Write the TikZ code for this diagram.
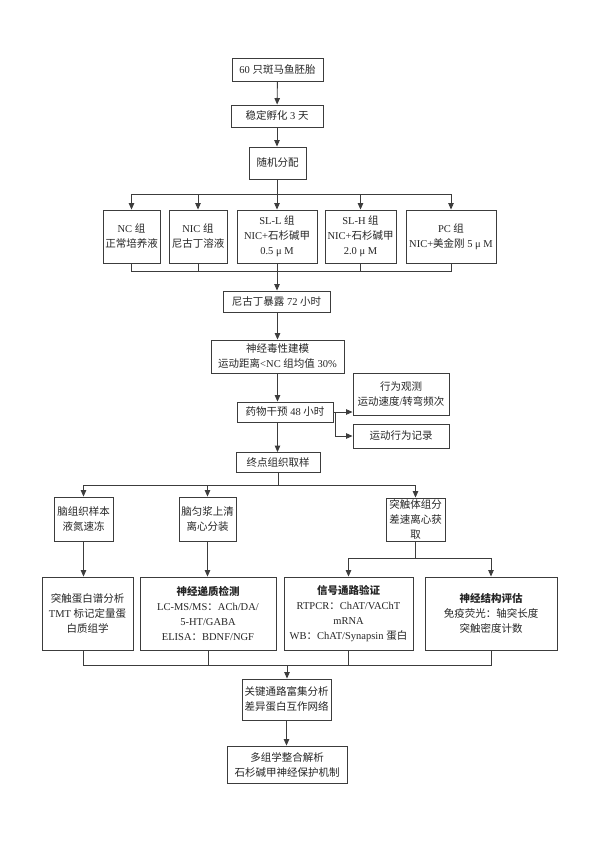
\documentclass[tikz,border=0pt]{standalone}
\usepackage{fontspec}
\setmainfont{Liberation Serif}
\newfontfamily\cjkfont{Noto Sans CJK SC}
\newfontfamily\latinfont{Liberation Serif}
\usetikzlibrary{calc,arrows.meta}
\usetikzlibrary{positioning}

% switch to the CJK font for Chinese characters
\newXeTeXintercharclass\CJKcls
\newcount\cjkcode
\cjkcode="4E00
\loop \XeTeXcharclass\cjkcode=\CJKcls \ifnum\cjkcode<"9FFF\relax \advance\cjkcode by 1 \repeat
\cjkcode="FF01
\loop \XeTeXcharclass\cjkcode=\CJKcls \ifnum\cjkcode<"FF5E\relax \advance\cjkcode by 1 \repeat
\XeTeXinterchartoks 0 \CJKcls = {\cjkfont}
\XeTeXinterchartoks 4095 \CJKcls = {\cjkfont}
\XeTeXinterchartoks \CJKcls 0 = {\latinfont}
\XeTeXinterchartoks \CJKcls 4095 = {\latinfont}
\XeTeXinterchartokenstate=1

\definecolor{linegray}{HTML}{3C3C3C}
\definecolor{textgray}{HTML}{262626}

\begin{document}
\begin{tikzpicture}[x=1pt, y=-1pt, color=linegray, line width=0.9pt,
  box/.style={rectangle, draw=linegray, line width=0.9pt, fill=white, text=textgray,
    inner sep=1pt, align=center, font=\fontsize{10.5}{15}\selectfont}
]
\useasboundingbox (0,0) rectangle (594,841);

% Node coordinates WITH LABELS
\node[box, minimum width=91, minimum height=23] (E1) at (277.5, 69.5) {60 只斑马鱼胚胎};
\node[box, minimum width=92, minimum height=22] (E2) at (277, 116) {稳定孵化 3 天};
\node[box, minimum width=57, minimum height=32] (E3) at (277.5, 163) {随机分配};

\node[box, minimum width=57, minimum height=53] (G1) at (131.5, 236.5) {NC 组\\正常培养液};
\node[box, minimum width=58, minimum height=53] (G2) at (198, 236.5) {NIC 组\\尼古丁溶液};
\node[box, minimum width=80, minimum height=53] (G3) at (277, 236.5) {SL-L 组\\NIC+石杉碱甲\\0.5 μ M};
\node[box, minimum width=71, minimum height=53] (G4) at (360.5, 236.5) {SL-H 组\\NIC+石杉碱甲\\2.0 μ M};
\node[box, minimum width=90, minimum height=53] (G5) at (451, 236.5) {PC 组\\NIC+美金刚 5 μ M};

\node[box, minimum width=107, minimum height=21] (E4) at (276.5, 301.5) {尼古丁暴露 72 小时};
\node[box, minimum width=133, minimum height=33] (E5) at (277.5, 356.5) {神经毒性建模\\运动距离<NC 组均值 30\%};
\node[box, minimum width=96, minimum height=20] (E6) at (285, 412) {药物干预 48 小时};
\node[box, minimum width=96, minimum height=42] (B1) at (401, 394) {行为观测\\运动速度/转弯频次};
\node[box, minimum width=96, minimum height=24] (B2) at (401, 436) {运动行为记录};
\node[box, minimum width=84, minimum height=20] (E7) at (278, 462.5) {终点组织取样};

\node[box, minimum width=59, minimum height=44] (S1) at (83.5, 519) {脑组织样本\\液氮速冻};
\node[box, minimum width=57, minimum height=44] (S2) at (207.5, 519) {脑匀浆上清\\离心分装};
\node[box, minimum width=59, minimum height=43] (S3) at (415.5, 519.5) {突触体组分\\差速离心获\\取};

\node[box, minimum width=91, minimum height=73] (A1) at (87.5, 613.5) {突触蛋白谱分析\\TMT 标记定量蛋\\白质组学};
\node[box, minimum width=136, minimum height=73] (A2) at (208, 613.5) {\textbf{神经递质检测}\\LC-MS/MS：ACh/DA/\\5-HT/GABA\\ELISA：BDNF/NGF};
\node[box, minimum width=129, minimum height=73] (A3) at (348.5, 613.5) {\textbf{信号通路验证}\\RTPCR：ChAT/VAChT\\mRNA\\WB：ChAT/Synapsin 蛋白};
\node[box, minimum width=132, minimum height=73] (A4) at (491, 613.5) {\textbf{神经结构评估}\\免疫荧光：轴突长度\\突触密度计数};

\node[box, minimum width=89, minimum height=41] (E8) at (286.5, 699.5) {关键通路富集分析\\差异蛋白互作网络};
\node[box, minimum width=120, minimum height=37] (E9) at (287, 764.5) {多组学整合解析\\石杉碱甲神经保护机制};

% Junction points
\coordinate (J1) at (277.5, 194);
\coordinate (J2) at (277, 271);
\coordinate (J3) at (278, 485);
\coordinate (J4) at (415.5, 558);
\coordinate (J5) at (287, 665);
\coordinate (J6) at (335, 412);

% Arrow style
\tikzset{
  arr/.style={-{Triangle[length=6.5pt, width=5.5pt]}}
}

% ---- Edges ----
\draw[arr] (E1) -- (E2);
\draw[arr] (E2.south) -- (E2.south |- E3.north);
\draw (E3.south) -- (J1);
\foreach \g in {G1,G2,G3,G4,G5}
  \draw[arr] (J1) -| (\g.north);
\foreach \g in {G1,G2,G3,G4,G5}
  \draw (\g.south) |- (J2);
\draw[arr] (J2) -- (J2 |- E4.north);

\draw[arr] (E5.south |- E4.south) -- (E5.north);
\draw[arr] (E5.south) -- (E5.south |- E6.north);
\draw[arr] (E6.east) -- (E6.east -| B1.west);
\draw[arr] (J6) |- (B2.west);
\draw[arr] (E5.south |- E6.south) -- (E5.south |- E7.north);

\draw (E7.south) -- (J3);
\foreach \s in {S1,S2,S3}
  \draw[arr] (J3) -| (\s.north);
\draw[arr] (S1.south) -- (S1.south |- A1.north);
\draw[arr] (S2.south) -- (S2.south |- A2.north);
\draw (S3.south) -- (J4);
\draw[arr] (J4) -| (A3.north);
\draw[arr] (J4) -| (A4.north);

\draw (S1.south |- A1.south) |- (J5);
\foreach \a in {A2,A3,A4}
  \draw (\a.south) |- (J5);
\draw[arr] (J5) -- (J5 |- E8.north);
\draw[arr] (E8.south) -- (E8.south |- E9.north);

\end{tikzpicture}
\end{document}
